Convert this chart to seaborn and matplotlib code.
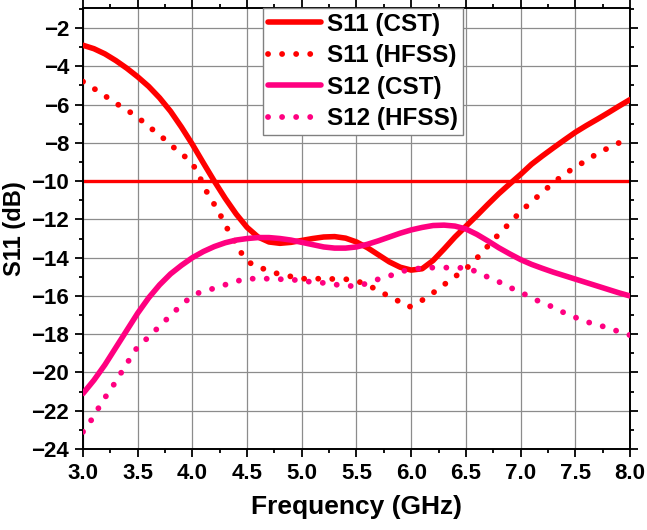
import matplotlib
matplotlib.use('Agg')
import matplotlib.pyplot as plt
import seaborn as sns
import pandas as pd
from matplotlib.ticker import MultipleLocator

# values (GHz, dB)
freq_cst = [3.0, 3.1, 3.2, 3.3, 3.4, 3.5, 3.6, 3.7, 3.8, 3.9,
            4.0, 4.1, 4.2, 4.3, 4.4, 4.5, 4.6, 4.7, 4.8, 4.9,
            5.0, 5.1, 5.2, 5.3, 5.4, 5.5, 5.6, 5.7, 5.8, 5.9,
            6.0, 6.1, 6.2, 6.3, 6.4, 6.5, 6.6, 6.7, 6.8, 6.9,
            7.0, 7.1, 7.2, 7.3, 7.4, 7.5, 7.6, 7.7, 7.8, 7.9, 8.0]
s11_cst = [-2.9, -3.08, -3.35, -3.7, -4.1, -4.55, -5.05, -5.65, -6.35, -7.18,
           -8.08, -9.05, -10.0, -10.9, -11.72, -12.42, -12.92, -13.18, -13.25, -13.2,
           -13.1, -13.0, -12.92, -12.9, -12.98, -13.18, -13.48, -13.85, -14.22, -14.5,
           -14.65, -14.58, -14.15, -13.55, -12.92, -12.36, -11.8, -11.22, -10.66, -10.15,
           -9.65, -9.12, -8.68, -8.26, -7.85, -7.45, -7.1, -6.77, -6.43, -6.08, -5.74]
s12_cst = [-21.1, -20.4, -19.6, -18.7, -17.8, -16.9, -16.1, -15.42, -14.85, -14.4,
           -14.0, -13.68, -13.42, -13.22, -13.08, -13.0, -12.95, -12.95, -13.0, -13.08,
           -13.2, -13.32, -13.44, -13.5, -13.5, -13.44, -13.3, -13.12, -12.92, -12.72,
           -12.55, -12.42, -12.32, -12.3, -12.35, -12.5, -12.78, -13.12, -13.48, -13.8,
           -14.1, -14.35, -14.56, -14.76, -14.94, -15.12, -15.3, -15.48, -15.66, -15.84, -16.0]

freq_s11_hfss = [3.0, 3.11, 3.21, 3.3, 3.4, 3.5, 3.59, 3.68, 3.77, 3.86,
                 3.95, 4.03, 4.08, 4.13, 4.19, 4.25, 4.3, 4.36, 4.42, 4.47,
                 4.56, 4.66, 4.77, 4.88, 5.0, 5.12, 5.23, 5.35, 5.46, 5.57,
                 5.68, 5.78, 5.88, 5.98, 6.08, 6.18, 6.27, 6.36, 6.45, 6.55,
                 6.62, 6.7, 6.78, 6.86, 6.94, 7.02, 7.11, 7.2, 7.29, 7.38,
                 7.49, 7.59, 7.69, 7.79, 7.9, 8.0]
s11_hfss = [-4.8, -5.2, -5.58, -5.93, -6.28, -6.66, -7.1, -7.5, -7.93, -8.4,
            -8.8, -9.34, -9.95, -10.55, -11.12, -11.7, -12.3, -12.87, -13.45, -14.0,
            -14.42, -14.6, -14.82, -14.96, -15.1, -15.1, -15.1, -15.13, -15.13, -15.36,
            -15.65, -15.97, -16.26, -16.58, -16.3, -15.93, -15.53, -15.17, -14.78, -14.35,
            -13.9, -13.4, -12.9, -12.43, -11.95, -11.48, -11.04, -10.57, -10.14, -9.72,
            -9.3, -8.96, -8.6, -8.3, -8.0, -7.6]

freq_s12_hfss = [3.0, 3.07, 3.13, 3.19, 3.26, 3.32, 3.38, 3.44, 3.5, 3.59,
                 3.67, 3.75, 3.84, 3.92, 4.04, 4.15, 4.26, 4.37, 4.48, 4.6,
                 4.71, 4.82, 4.95, 5.06, 5.17, 5.29, 5.4, 5.52, 5.63, 5.74,
                 5.85, 5.96, 6.08, 6.2, 6.31, 6.42, 6.53, 6.64, 6.75, 6.85,
                 6.95, 7.06, 7.16, 7.27, 7.38, 7.5, 7.6, 7.72, 7.83, 7.94, 8.0]
s12_hfss = [-23.1, -22.54, -21.97, -21.4, -20.83, -20.28, -19.72, -19.18, -18.65, -18.2,
            -17.75, -17.3, -16.8, -16.35, -15.87, -15.69, -15.48, -15.3, -15.1, -15.1,
            -15.1, -15.13, -15.17, -15.25, -15.3, -15.39, -15.48, -15.48, -15.27, -15.04,
            -14.87, -14.64, -14.56, -14.52, -14.52, -14.52, -14.56, -14.87, -15.13, -15.39,
            -15.69, -15.97, -16.26, -16.52, -16.83, -17.12, -17.35, -17.53, -17.74, -17.93, -18.05]

RED = '#ff0000'
PINK = '#ff0080'
DOTS = (0, (0.01, 2.4))

sns.set_theme(style='ticks')
plt.rcParams['font.family'] = ['Liberation Sans', 'DejaVu Sans']
plt.rcParams['font.weight'] = 'bold'
plt.rcParams['axes.labelweight'] = 'bold'
plt.rcParams['lines.dash_capstyle'] = 'round'

fig = plt.figure(figsize=(6.47, 5.30), dpi=100)
ax = fig.add_axes([0.1283, 0.1528, 0.8454, 0.8322])

ax.axhline(-10, color=RED, lw=2.4, zorder=2)

series = [
    ('S11 (CST)', freq_cst, s11_cst, RED, '-', 4.0),
    ('S11 (HFSS)', freq_s11_hfss, s11_hfss, RED, DOTS, 4.2),
    ('S12 (CST)', freq_cst, s12_cst, PINK, '-', 4.0),
    ('S12 (HFSS)', freq_s12_hfss, s12_hfss, PINK, DOTS, 4.2),
]
for name, fx, fy, col, ls, lw in series:
    df = pd.DataFrame({'freq': fx, 'db': fy})
    sns.lineplot(data=df, x='freq', y='db', ax=ax, color=col, lw=lw,
                 linestyle=ls, dash_capstyle='round', label=name, zorder=3)

ax.set_xlim(3.0, 8.0)
ax.set_ylim(-24, -0.95)
ax.xaxis.set_major_locator(MultipleLocator(0.5))
ax.xaxis.set_minor_locator(MultipleLocator(0.25))
ax.yaxis.set_major_locator(MultipleLocator(2))
ax.yaxis.set_minor_locator(MultipleLocator(1))
ax.xaxis.set_major_formatter(plt.FuncFormatter(lambda v, p: f'{v:.1f}'))

ax.grid(True, which='major', color='#8c8c8c', lw=0.9)
ax.set_axisbelow(True)
for sp in ax.spines.values():
    sp.set_color('black')
    sp.set_linewidth(1.4)
ax.tick_params(which='both', direction='out', top=True, right=True,
               labeltop=False, labelright=False, width=1.3, color='black',
               labelsize=16, labelcolor='black')
ax.tick_params(which='major', length=6, pad=4)
ax.tick_params(which='minor', length=3)

ax.set_xlabel('Frequency (GHz)', fontsize=19, labelpad=8, color='black')
ax.set_ylabel('S11 (dB)', fontsize=17, labelpad=4, color='black')

leg = ax.legend(loc='upper left', bbox_to_anchor=(0.329, 1.0), borderaxespad=0,
                fontsize=17.5, frameon=True, fancybox=False, framealpha=1,
                edgecolor='#808080', handlelength=2.2, handletextpad=0.25,
                labelspacing=0.35, borderpad=0.2)
leg.get_frame().set_linewidth(1.0)
for t in leg.get_texts():
    t.set_color('black')

fig.savefig('out.png', dpi=100)
